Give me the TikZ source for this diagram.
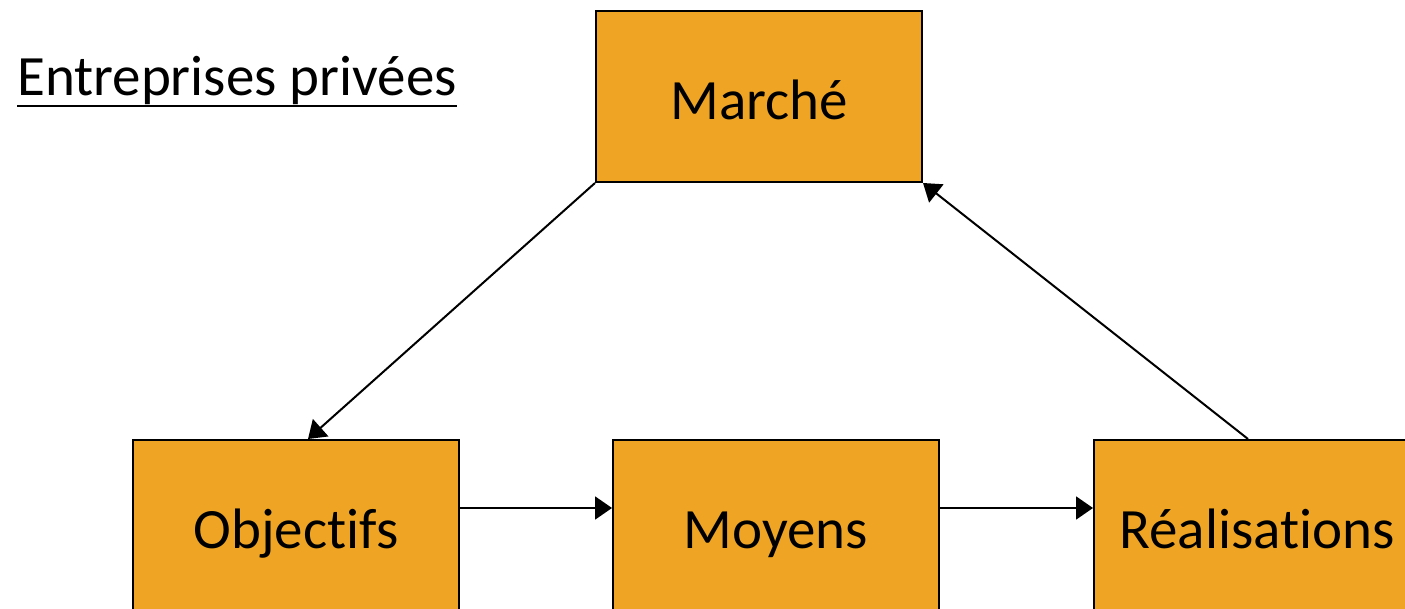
\documentclass[tikz,border=0pt]{standalone}
\usepackage{fontspec}
\setmainfont[Ligatures=NoCommon]{Carlito}
\usetikzlibrary{arrows.meta,calc}
\definecolor{boxorange}{RGB}{239,165,35}
\tikzset{
  bigfont/.style={font=\fontsize{57}{66}\selectfont},
  stagebox/.style={draw=black, line width=2pt, fill=boxorange, minimum width=326pt, minimum height=171pt, inner sep=0pt, text height=46pt, text depth=0pt, bigfont},
  flow/.style={line width=2pt, -{Triangle[length=17pt,width=23pt]}}
}
\begin{document}
\begin{tikzpicture}[x=1pt,y=-1pt]
\useasboundingbox (0,0) rectangle (1405,609);
\node[stagebox] (mar) at (759,96.5) {Marché};
\node[stagebox] (obj) at (296,525.5) {Objectifs};
\node[stagebox] (moy) at (776,525.5) {Moyens};
\node[stagebox] (rea) at (1257,525.5) {Réalisations};
\node[anchor=base west, inner sep=0pt, bigfont] (title) at (17,96) {Entreprises privées};
\draw[line width=2.5pt] ($(title.base west)+(0,10)$) -- ($(title.base east)+(0,10)$);
\coordinate (a1) at ($(obj.east)+(0,-17.5)$);
\coordinate (a2) at ($(moy.east)+(0,-17.5)$);
\draw[flow] (mar.south west) -- ($(obj.north)+(12,0)$);
\draw[flow] (a1) -- (a1 -| moy.west);
\draw[flow] (a2) -- (a2 -| rea.west);
\draw[flow] ($(rea.north)+(-9,0)$) -- (mar.south east);
\end{tikzpicture}
\end{document}
